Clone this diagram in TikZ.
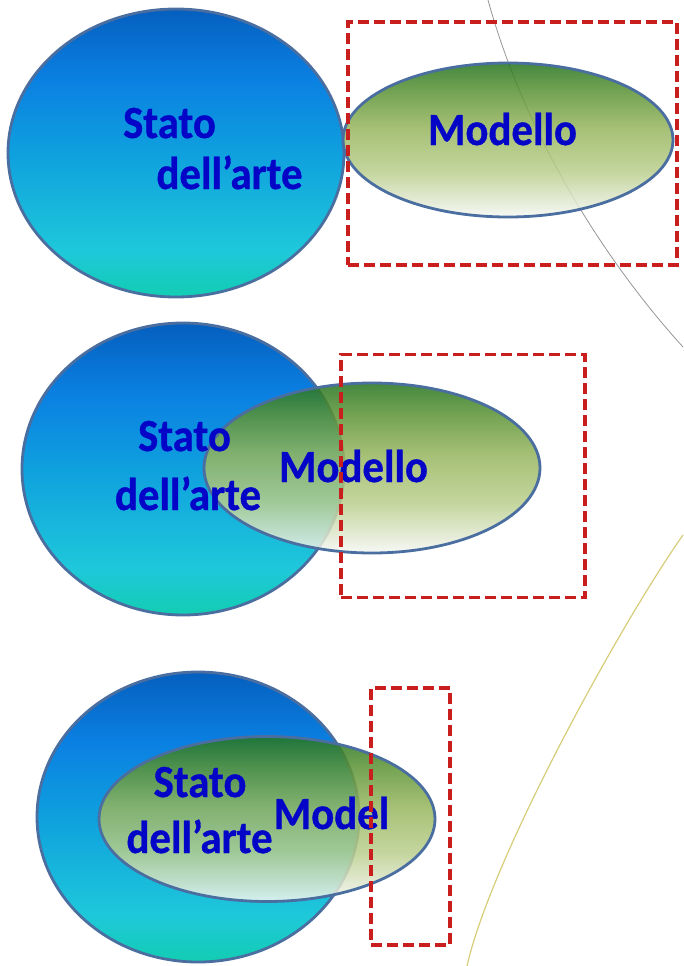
\documentclass[tikz,border=0pt]{standalone}
\usepackage{fontspec}
\setmainfont{Carlito}[FakeStretch=0.93, BoldFeatures={FakeBold=0.8}]
\usetikzlibrary{shapes.geometric}
\definecolor{txtblue}{RGB}{5,5,200}
\definecolor{edgeblue}{RGB}{75,110,160}
\definecolor{boxred}{RGB}{200,30,30}
\definecolor{arcgray}{RGB}{150,150,150}
\definecolor{arcyellow}{RGB}{215,205,120}
\pgfdeclareverticalshading{bluesh}{100bp}{%
  color(0bp)=(rgb,255:red,18;green,205;blue,178);
  color(25bp)=(rgb,255:red,18;green,205;blue,178);
  color(33bp)=(rgb,255:red,30;green,200;blue,218);
  color(50bp)=(rgb,255:red,15;green,160;blue,222);
  color(63bp)=(rgb,255:red,10;green,128;blue,226);
  color(75bp)=(rgb,255:red,5;green,95;blue,190);
  color(100bp)=(rgb,255:red,5;green,95;blue,190)}
\pgfdeclareverticalshading{greensh}{100bp}{%
  color(0bp)=(rgb,255:red,245;green,248;blue,245);
  color(25bp)=(rgb,255:red,245;green,248;blue,245);
  color(30bp)=(rgb,255:red,225;green,232;blue,208);
  color(40bp)=(rgb,255:red,185;green,206;blue,140);
  color(54bp)=(rgb,255:red,150;green,181;blue,93);
  color(66bp)=(rgb,255:red,90;green,146;blue,52);
  color(75bp)=(rgb,255:red,35;green,115;blue,30);
  color(100bp)=(rgb,255:red,35;green,115;blue,30)}
\tikzset{
  blueblob/.style={ellipse, draw=edgeblue, line width=2.8pt, inner sep=0pt, shading=bluesh},
  greenblob/.style={ellipse, draw=edgeblue, line width=2.8pt, inner sep=0pt, shading=greensh, fill opacity=0.85},
  label/.style={text=txtblue, inner sep=0pt, anchor=base, font=\fontsize{46}{48}\selectfont\bfseries},
  focusbox/.style={draw=boxred, line width=3.5pt, dash pattern=on 11pt off 5pt, inner sep=0pt},
}
\begin{document}
\begin{tikzpicture}[x=1pt,y=-1pt]
\useasboundingbox (0,0) rectangle (683,966);
% background arcs
\coordinate (g1) at (488,0);
\coordinate (g2) at (683,347);
\draw[arcgray, line width=0.8pt] (g1) .. controls (528,145) and (613,270) .. (g2);
\coordinate (y1) at (683,535);
\coordinate (y2) at (467,966);
\draw[arcyellow, line width=1.2pt] (y1) .. controls (623,620) and (492,856) .. (y2);

% Panel 1
\node[blueblob, minimum width=336pt, minimum height=288pt] (b1) at (176,153) {};
\node[greenblob, minimum width=330pt, minimum height=154pt] (m1) at (508,140) {};
\node[label] (s1) at (169.5,138) {Stato};
\node[label] (d1) at (229.5,189) {dell’arte};
\node[label] (t1) at (502.5,145) {Modello};
\node[focusbox, minimum width=329pt, minimum height=243pt] (r1) at (512.5,143.5) {};

% Panel 2
\node[blueblob, minimum width=322pt, minimum height=292pt] (b2) at (183,469) {};
\node[greenblob, minimum width=336pt, minimum height=170pt] (m2) at (372,468) {};
\node[label] (s2) at (184.5,451) {Stato};
\node[label] (d2) at (188,510) {dell’arte};
\node[label] (t2) at (353.5,482) {Modello};
\node[focusbox, minimum width=244pt, minimum height=243pt] (r2) at (463,476) {};

% Panel 3
\node[blueblob, minimum width=322pt, minimum height=290pt] (b3) at (198,817) {};
\node[greenblob, minimum width=336pt, minimum height=165pt] (m3) at (267,819) {};
\node[label] (s3) at (200,797) {Stato};
\node[label] (d3) at (199.5,853) {dell’arte};
\node[label] (t3) at (331.5,829) {Model};
\node[focusbox, minimum width=79pt, minimum height=257pt] (r3) at (410.5,816.5) {};
\end{tikzpicture}
\end{document}
